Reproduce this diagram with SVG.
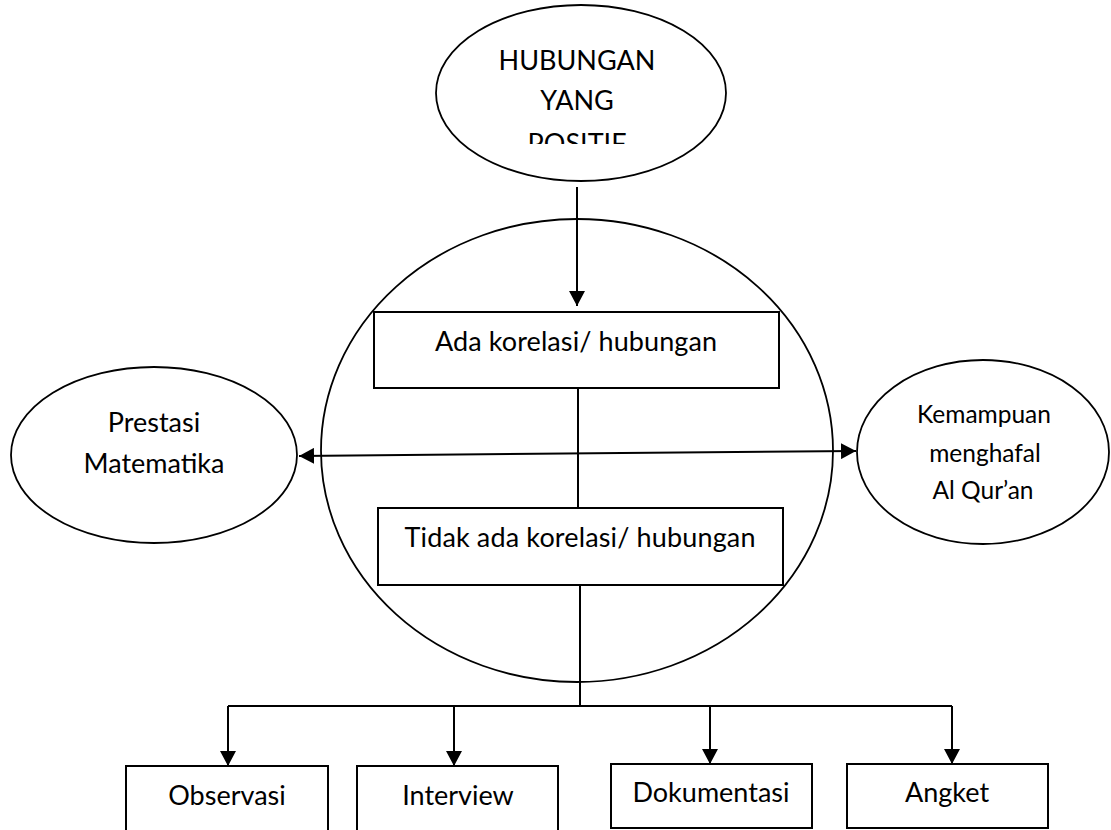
<svg xmlns="http://www.w3.org/2000/svg" width="1111" height="830" viewBox="0 0 1111 830">
<style>
  .shape { fill: #ffffff; stroke: #000000; stroke-width: 2; }
  .oval { fill: #ffffff; stroke: #000000; stroke-width: 1.8; }
  .conn { fill: none; stroke: #000000; stroke-width: 2; }
  .lbl { font-family: Lato, "Open Sans", sans-serif; font-size: 27px; fill: #000000; text-anchor: middle; }
  .sm { font-size: 24.5px; }
</style>
<defs>
  <marker id="arr" viewBox="0 0 15 16" markerUnits="userSpaceOnUse" markerWidth="15" markerHeight="16" refX="15" refY="8" orient="auto-start-reverse">
    <path d="M0,0 L15,8 L0,16 z" fill="#000000"/>
  </marker>
  <clipPath id="topclip">
    <rect x="430" y="0" width="300" height="144"/>
  </clipPath>
</defs>
<rect x="0" y="0" width="1111" height="830" fill="#ffffff"/>

<g id="node-big-circle">
  <ellipse class="oval" cx="577" cy="450.5" rx="256" ry="231.5"/>
</g>

<g id="node-hubungan-positif">
  <ellipse class="oval" cx="581" cy="93" rx="145" ry="88"/>
  <g clip-path="url(#topclip)">
    <text class="lbl" x="577" y="70">HUBUNGAN</text>
    <text class="lbl" x="577" y="110">YANG</text>
    <text class="lbl" x="577" y="153">POSITIF</text>
  </g>
</g>

<g id="node-ada-korelasi">
  <rect class="shape" x="374" y="312" width="405" height="76"/>
  <text class="lbl" x="576" y="351" textLength="282" lengthAdjust="spacing">Ada korelasi/ hubungan</text>
</g>

<g id="node-tidak-ada-korelasi">
  <rect class="shape" x="378" y="508" width="405" height="77"/>
  <text class="lbl" x="580" y="547" textLength="351" lengthAdjust="spacing">Tidak ada korelasi/ hubungan</text>
</g>

<g id="node-prestasi">
  <ellipse class="oval" cx="154" cy="455" rx="143" ry="88"/>
  <text class="lbl" x="154" y="432">Prestasi</text>
  <text class="lbl" x="154" y="473">Matematika</text>
</g>

<g id="node-kemampuan">
  <ellipse class="oval" cx="983" cy="452" rx="126" ry="92"/>
  <text class="lbl sm" x="984" y="423">Kemampuan</text>
  <text class="lbl sm" x="985" y="462">menghafal</text>
  <text class="lbl sm" x="983" y="499">Al Qur’an</text>
</g>

<g id="node-observasi">
  <rect class="shape" x="126" y="766" width="202" height="70"/>
  <text class="lbl" x="227" y="805">Observasi</text>
</g>

<g id="node-interview">
  <rect class="shape" x="357" y="766" width="201" height="70"/>
  <text class="lbl" x="458" y="805">Interview</text>
</g>

<g id="node-dokumentasi">
  <rect class="shape" x="611" y="764" width="201" height="64"/>
  <text class="lbl" x="711" y="802">Dokumentasi</text>
</g>

<g id="node-angket">
  <rect class="shape" x="847" y="764" width="201" height="64"/>
  <text class="lbl" x="947" y="802">Angket</text>
</g>

<g id="connectors">
  <line class="conn" x1="577" y1="187" x2="577" y2="306" marker-end="url(#arr)"/>
  <line class="conn" x1="578" y1="388" x2="578" y2="508"/>
  <line class="conn" x1="299" y1="456" x2="856" y2="451" marker-start="url(#arr)" marker-end="url(#arr)"/>
  <line class="conn" x1="580" y1="585" x2="580" y2="706"/>
  <polyline class="conn" points="228,706 952,706"/>
  <line class="conn" x1="228" y1="706" x2="228" y2="766" marker-end="url(#arr)"/>
  <line class="conn" x1="454" y1="706" x2="454" y2="766" marker-end="url(#arr)"/>
  <line class="conn" x1="710" y1="706" x2="710" y2="764" marker-end="url(#arr)"/>
  <line class="conn" x1="952" y1="706" x2="952" y2="764" marker-end="url(#arr)"/>
</g>
</svg>
